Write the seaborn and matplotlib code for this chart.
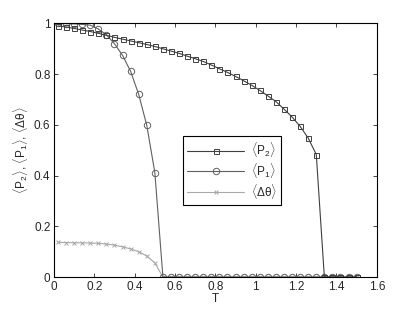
import numpy as np
import pandas as pd
import matplotlib
matplotlib.use("Agg")
import matplotlib.pyplot as plt
import seaborn as sns

# temperaturas (paso 0.04)
T = [0.02, 0.06, 0.10, 0.14, 0.18, 0.22, 0.26, 0.30, 0.34, 0.38,
     0.42, 0.46, 0.50, 0.54, 0.58, 0.62, 0.66, 0.70, 0.74, 0.78,
     0.82, 0.86, 0.90, 0.94, 0.98, 1.02, 1.06, 1.10, 1.14, 1.18,
     1.22, 1.26, 1.30, 1.34, 1.38, 1.42, 1.46, 1.50]

P2 = [0.990, 0.986, 0.980, 0.974, 0.968, 0.961, 0.953, 0.945, 0.938, 0.931,
      0.924, 0.917, 0.909, 0.900, 0.891, 0.882, 0.871, 0.861, 0.850, 0.836,
      0.821, 0.807, 0.791, 0.774, 0.756, 0.736, 0.714, 0.692, 0.662, 0.631,
      0.594, 0.548, 0.483, 0.0, 0.0, 0.0, 0.0, 0.0]

P1 = [1.000, 0.999, 0.998, 0.996, 0.993, 0.978, 0.955, 0.920, 0.874, 0.811,
      0.720, 0.598, 0.412] + [0.0] * 25

dtheta = [0.137, 0.136, 0.135, 0.135, 0.134, 0.133, 0.130, 0.126, 0.119, 0.111,
          0.100, 0.083, 0.056] + [0.0] * 25

labels = [r'$\langle\mathrm{P}_2\rangle$', r'$\langle\mathrm{P}_1\rangle$',
          r'$\langle\Delta\mathrm{\theta}\rangle$']

sns.set_style("ticks")
plt.rcParams['font.family'] = ['Liberation Sans', 'DejaVu Sans']
plt.rcParams['mathtext.fontset'] = 'custom'
plt.rcParams['mathtext.rm'] = 'Liberation Sans'
plt.rcParams['mathtext.it'] = 'Liberation Sans:italic'

fig = plt.figure(figsize=(4.15, 3.12), dpi=100)
ax = fig.add_axes([0.130, 0.112, 0.778, 0.813])

fs = 8.5
estilos = [
    (dtheta, labels[2], 'x', '#a8a8a8', 3.2),
    (P1, labels[1], 'o', '#606060', 4.6),
    (P2, labels[0], 's', '#404040', 3.6),
]
for y, lab, m, c, ms in estilos:
    sns.lineplot(x=T, y=y, ax=ax, marker=m, color=c, label=lab,
                 markersize=ms, markerfacecolor='none', markeredgecolor=c,
                 markeredgewidth=0.7, linewidth=0.8)

ax.set_xlim(0, 1.6)
ax.set_ylim(0, 1)
ax.set_xticks(np.arange(0, 1.61, 0.2))
ax.set_yticks(np.arange(0, 1.01, 0.2))
ax.set_xticklabels(['0', '0.2', '0.4', '0.6', '0.8', '1', '1.2', '1.4', '1.6'])
ax.set_yticklabels(['0', '0.2', '0.4', '0.6', '0.8', '1'])
ax.tick_params(direction='in', top=True, right=True, labelsize=fs,
               length=3, width=0.6, pad=2.5)
for s in ax.spines.values():
    s.set_linewidth(0.8)
    s.set_color('black')

ax.set_xlabel('T', fontsize=fs, labelpad=0)
ax.set_ylabel(r'$\langle\mathrm{P}_2\rangle$, $\langle\mathrm{P}_1\rangle$, $\langle\Delta\mathrm{\theta}\rangle$',
              fontsize=fs, labelpad=3)

h, l = ax.get_legend_handles_labels()
leg = ax.legend(h[::-1], l[::-1], loc='upper left', bbox_to_anchor=(0.40, 0.555),
                borderaxespad=0, fancybox=False, framealpha=1, edgecolor='black',
                fontsize=fs, handlelength=4.8, labelspacing=0.15, borderpad=0.35,
                handletextpad=0.6)
leg.get_frame().set_linewidth(0.8)

fig.savefig('out.png', dpi=100)
